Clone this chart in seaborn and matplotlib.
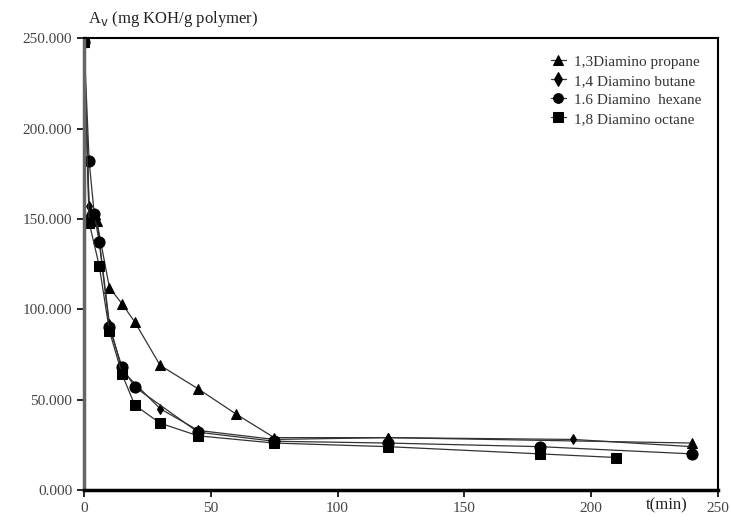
import pandas as pd
import seaborn as sns
import matplotlib.pyplot as plt
from matplotlib.ticker import FormatStrFormatter

# reading from the picture
t_propane = [0, 2, 5, 10, 15, 20, 30, 45, 60, 75, 120, 240]
v_propane = [248, 153, 149, 112, 103, 93, 69, 56, 42, 29, 29, 26]
t_butane = [0, 2, 5, 10, 15, 30, 45, 75, 120, 193, 240]
v_butane = [248, 157, 150, 92, 66, 45, 33, 28, 29, 28, 24]
t_hexane = [0, 2, 4, 6, 10, 15, 20, 45, 75, 120, 180, 240]
v_hexane = [248, 182, 153, 137, 90, 68, 57, 32, 27, 26, 24, 20]
t_octane = [0, 2, 6, 10, 15, 20, 30, 45, 75, 120, 180, 210]
v_octane = [248, 148, 124, 88, 64, 47, 37, 30, 26, 24, 20, 18]
names = ['1,3Diamino propane', '1,4 Diamino butane', '1.6 Diamino  hexane', '1,8 Diamino octane']

frames = []
for n, t, v in zip(names, [t_propane, t_butane, t_hexane, t_octane],
                   [v_propane, v_butane, v_hexane, v_octane]):
    frames.append(pd.DataFrame({'t': t, 'Av': v, 'amine': n}))
df = pd.concat(frames)

sns.set_style('white')
plt.rcParams['font.family'] = ['Liberation Serif', 'DejaVu Serif']

fig = plt.figure(figsize=(7.31, 5.23), dpi=100)
ax = fig.add_axes([0.115, 0.063, 0.867, 0.864])

markers = {names[0]: '^', names[1]: 'd', names[2]: 'o', names[3]: 's'}
sizes = {names[0]: 7, names[1]: 5, names[2]: 8, names[3]: 7}
sns.lineplot(data=df, x='t', y='Av', hue='amine', style='amine', markers=markers,
             dashes=False, palette=['#333333'] * 4, sort=False, lw=0.9,
             markeredgecolor='black', markerfacecolor='black', markersize=7, ax=ax)
for line, n in zip(ax.lines, names):
    line.set_markersize(sizes[n])

ax.set_xlim(0, 250)
ax.set_ylim(0, 250)
ax.set_xticks([0, 50, 100, 150, 200, 250])
ax.set_yticks([0, 50, 100, 150, 200, 250])
ax.yaxis.set_major_formatter(FormatStrFormatter('%.3f'))
ax.tick_params(direction='out', length=5, width=1.2, labelsize=11, labelcolor='#444444',
               color='black', bottom=True, left=True)
for s in ax.spines.values():
    s.set_color('black')
ax.spines['left'].set_linewidth(2.5)
ax.spines['left'].set_color('#666666')
ax.spines['bottom'].set_linewidth(2.5)
ax.spines['top'].set_linewidth(1.5)
ax.spines['right'].set_linewidth(1.5)

ax.set_xlabel('')
ax.set_ylabel('')
ax.text(0.006, 1.02, r'A$_\mathrm{v}$ (mg KOH/g polymer)', transform=ax.transAxes,
        fontsize=12, ha='left', va='bottom', color='#222222')
ax.text(230, -4, 't(min)', fontsize=12, ha='center', va='top', color='#222222')

leg = ax.legend(loc='upper right', fontsize=11, frameon=False,
                handlelength=1.0, borderpad=0.6, labelspacing=0.35, handletextpad=0.5)
for txt in leg.get_texts():
    txt.set_color('#333333')

fig.savefig('out.png', dpi=100)
